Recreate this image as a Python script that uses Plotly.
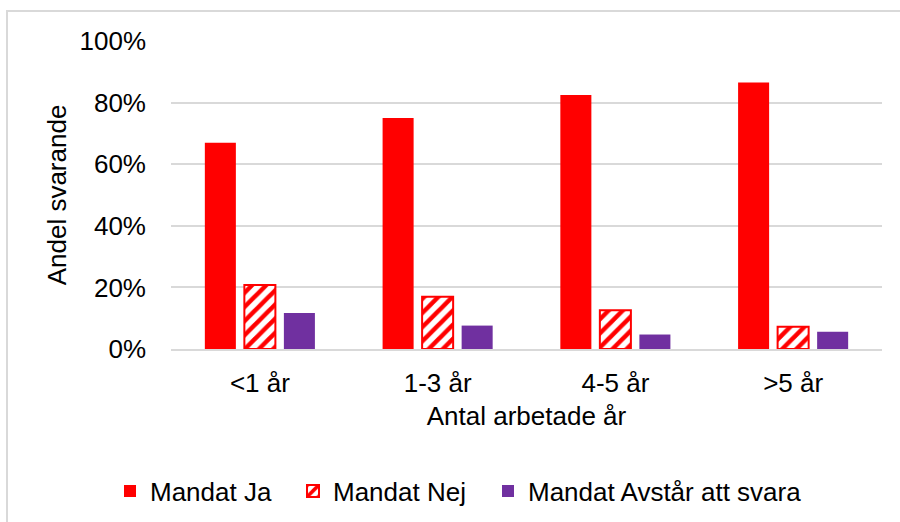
import plotly.graph_objects as go

categories = ["<1 år", "1-3 år", "4-5 år", ">5 år"]
mandat_ja = [0.67, 0.75, 0.825, 0.865]
mandat_nej = [0.208, 0.17, 0.126, 0.072]
mandat_avstar = [0.117, 0.076, 0.047, 0.056]
series_names = ["Mandat Ja", "Mandat Nej", "Mandat Avstår att svara"]
y_ticks = [0, 0.2, 0.4, 0.6, 0.8, 1.0]

RED = "#FF0000"
PURPLE = "#7030A0"
GRID = "#D9D9D9"
FONT = "Liberation Sans, Arial, sans-serif"
FS = 26

L, R, T, B = 171, 18, 41, 173
W, H = 900, 522
pw, ph = W - L - R, H - T - B

def px_x(x):
    return (x - L) / pw

def px_y(y):
    return (H - B - y) / ph

fig = go.Figure()
fig.add_trace(go.Bar(
    x=categories, y=mandat_ja, name=series_names[0],
    marker=dict(color=RED, line=dict(width=0)), legend="legend",
))
fig.add_trace(go.Bar(
    x=categories, y=mandat_nej, name=series_names[1],
    marker=dict(color="white", line=dict(color=RED, width=2),
                pattern=dict(shape="/", fgcolor=RED, bgcolor="white",
                             size=10, solidity=0.45, fillmode="replace")),
    legend="legend2",
))
fig.add_trace(go.Bar(
    x=categories, y=mandat_avstar, name=series_names[2],
    marker=dict(color=PURPLE, line=dict(width=0)), legend="legend3",
))

legend_common = dict(orientation="h", yanchor="middle", xanchor="left",
                     y=px_y(491), font=dict(family=FONT, size=FS, color="#000000"),
                     bgcolor="rgba(0,0,0,0)", borderwidth=0, itemwidth=30)

fig.update_layout(
    width=W, height=H,
    margin=dict(l=L, r=R, t=T, b=B, autoexpand=False),
    paper_bgcolor="white", plot_bgcolor="white",
    barmode="group", bargap=0.333, bargroupgap=0.215,
    font=dict(family=FONT, size=FS, color="#000000"),
    showlegend=True,
    legend=dict(legend_common, x=px_x(110)),
    legend2=dict(legend_common, x=px_x(293)),
    legend3=dict(legend_common, x=px_x(488)),
    xaxis=dict(
        showgrid=False, showline=True, linecolor=GRID, linewidth=2,
        ticks="", ticklabelstandoff=10,
        tickfont=dict(family=FONT, size=FS, color="#000000"),
        title=dict(text="Antal arbetade år", standoff=10,
                   font=dict(family=FONT, size=FS, color="#000000")),
    ),
    yaxis=dict(
        range=[0, 1], tickvals=y_ticks, tickformat=".0%",
        showgrid=True, gridcolor=GRID, gridwidth=2,
        zeroline=False, showline=False, ticks="",
        ticklabelstandoff=24,
        tickfont=dict(family=FONT, size=FS, color="#000000"),
        title=dict(text="Andel svarande", standoff=5,
                   font=dict(family=FONT, size=FS, color="#000000")),
    ),
    shapes=[dict(type="rect", xref="paper", yref="paper",
                 x0=px_x(7), x1=px_x(950), y0=px_y(600), y1=px_y(11),
                 line=dict(color=GRID, width=2), fillcolor="rgba(0,0,0,0)",
                 layer="below")],
)

fig.write_html("out.html",
               config={"displayModeBar": False},
               post_script="document.body.style.margin='0';document.body.style.padding='0';")
